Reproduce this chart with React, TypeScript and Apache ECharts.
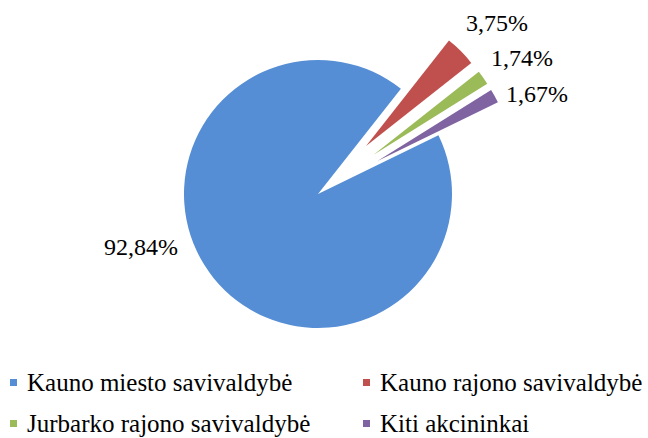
import React, { useEffect, useRef } from "react";
import * as echarts from "echarts";

const categories = [
  "Kauno miesto savivaldybė",
  "Kauno rajono savivaldybė",
  "Jurbarko rajono savivaldybė",
  "Kiti akcininkai",
];
const values = [92.84, 3.75, 1.74, 1.67];
const valueLabels = ["92,84%", "3,75%", "1,74%", "1,67%"];
const colors = ["#558ed5", "#c0504d", "#9bbb59", "#8064a2"];
const exploded = [false, true, true, true];

// label anchor (centre) positions, in px
const labelPos: [number, number][] = [
  [141, 247],
  [497, 23],
  [522, 58],
  [537, 94],
];
// legend item positions (left, top), in px
const legendPos: [number, number][] = [
  [10, 370],
  [363, 370],
  [10, 411],
  [363, 411],
];

export default function App() {
  const ref = useRef<HTMLDivElement>(null);
  useEffect(() => {
    if (!ref.current) return;
    const chart = echarts.init(ref.current, undefined, { renderer: "svg" });
    const font = "Liberation Serif";
    chart.setOption({
      animation: false,
      backgroundColor: "#ffffff",
      color: colors,
      legend: categories.map((name, i) => ({
        data: [name],
        orient: "vertical",
        left: legendPos[i][0],
        top: legendPos[i][1],
        icon: "rect",
        itemWidth: 7,
        itemHeight: 7,
        selectedMode: false,
        padding: 0,
        textStyle: {
          fontFamily: font,
          fontSize: 25,
          color: "#000",
          lineHeight: 25,
          padding: [0, 0, 0, 5],
        },
      })),
      graphic: valueLabels.map((t, i) => ({
        type: "text",
        x: labelPos[i][0],
        y: labelPos[i][1],
        silent: true,
        z: 100,
        style: {
          text: t,
          fontFamily: font,
          fontSize: 24,
          fill: "#000",
          textAlign: "center",
          textVerticalAlign: "middle",
        },
      })),
      series: [
        {
          type: "pie",
          center: [318, 194],
          radius: [0, 134],
          startAngle: 26,
          clockwise: true,
          selectedMode: "multiple",
          selectedOffset: 68,
          avoidLabelOverlap: false,
          emphasis: { disabled: true },
          labelLine: { show: false },
          label: { show: false },
          data: categories.map((name, i) => ({
            name,
            value: values[i],
            selected: exploded[i],
            itemStyle: { color: colors[i] },
          })),
        },
      ],
    });
    return () => chart.dispose();
  }, []);
  return (
    <div
      ref={ref}
      style={{ position: "absolute", left: 0, top: 0, width: 648, height: 438 }}
    />
  );
}
